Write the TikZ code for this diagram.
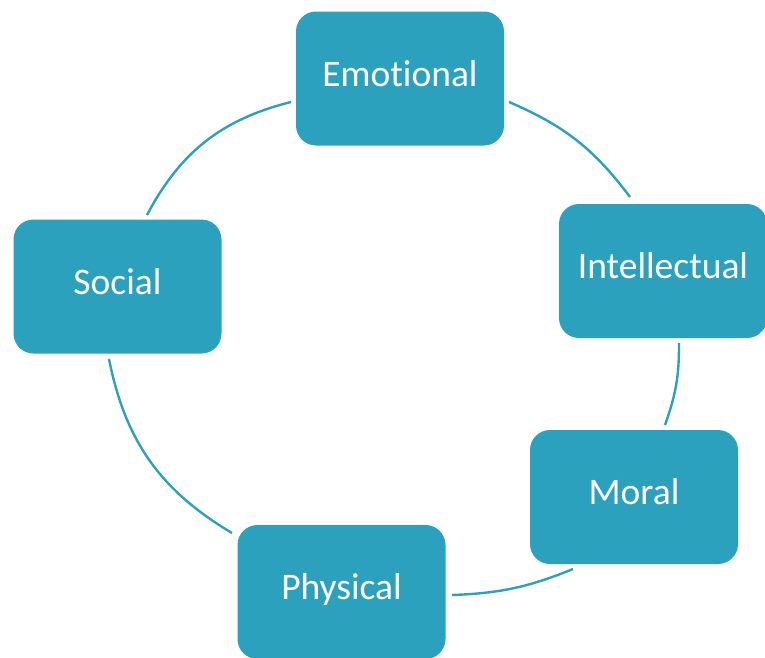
\documentclass[tikz,border=0pt]{standalone}
\usepackage{fontspec}
\setmainfont{Carlito}[Ligatures={NoCommon}]
\definecolor{teal}{HTML}{2CA1BE}
\tikzset{
  box/.style={draw=none, fill=teal, rounded corners=20pt, minimum width=208pt, minimum height=134pt,
    text=white, font=\fontsize{37.5}{45}\selectfont, text height=27pt, text depth=12pt, inner sep=0pt},
  link/.style={draw=teal, line width=2.4pt}
}
\begin{document}
\begin{tikzpicture}[x=1pt,y=-1pt]
\useasboundingbox (0,0) rectangle (765,657);
\node[box] (emo) at (400,78.5) {Emotional};
\node[box] (int) at (663,271) {Intellectual};
\node[box] (mor) at (634,497) {Moral};
\node[box] (phy) at (341.5,592) {Physical};
\node[box] (soc) at (117.5,286.5) {Social};
\coordinate (a1) at (509,102);
\coordinate (b1) at (630,197);
\coordinate (a2) at (679,343);
\coordinate (b2) at (665,425);
\coordinate (a3) at (573,569);
\coordinate (b3) at (452,595);
\coordinate (a4) at (232,533);
\coordinate (b4) at (109,359);
\coordinate (a5) at (147,215);
\coordinate (b5) at (291,102);
\draw[link] (a1) to[bend left=15] (b1);
\draw[link] (a2) to[bend left=10] (b2);
\draw[link] (a3) to[bend left=10] (b3);
\draw[link] (a4) to[bend left=24] (b4);
\draw[link] (a5) to[bend left=24] (b5);
\end{tikzpicture}
\end{document}
